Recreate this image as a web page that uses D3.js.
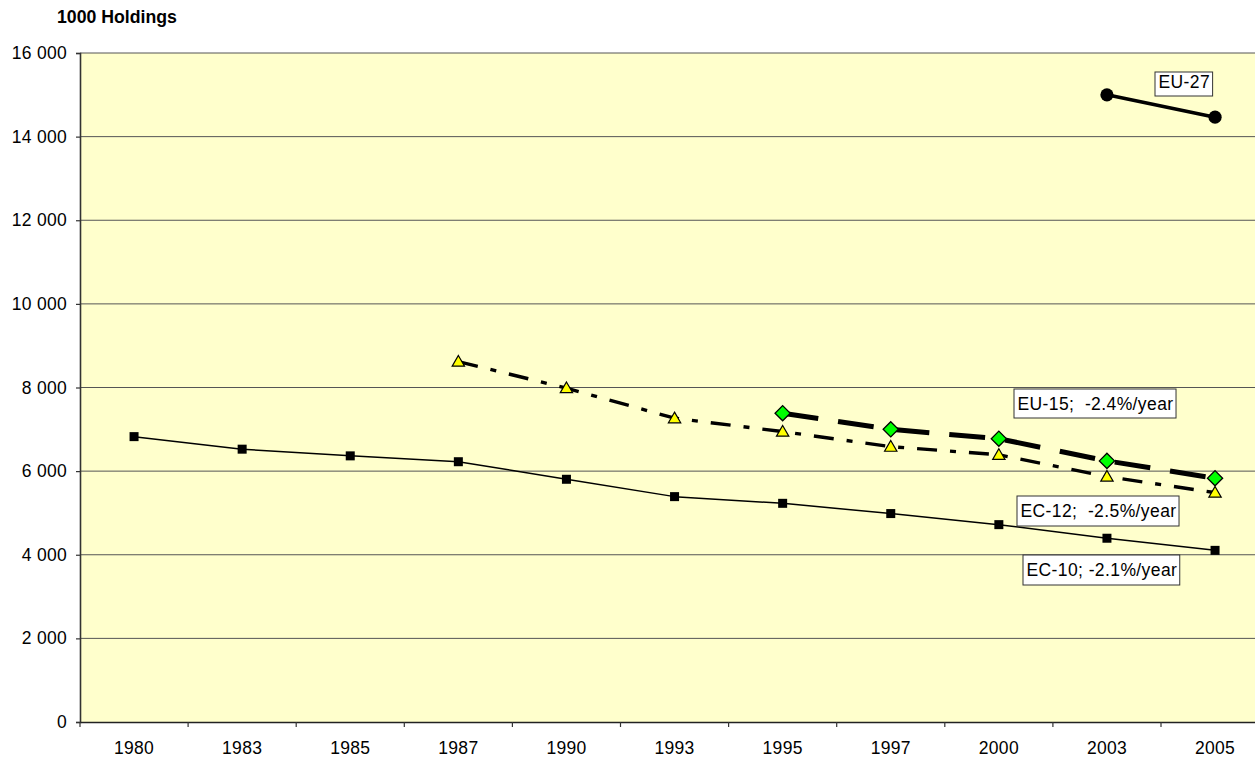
<!DOCTYPE html>
<html>
<head>
<meta charset="utf-8">
<script src="https://cdn.jsdelivr.net/npm/d3@7"></script>
<style>
  html, body { margin: 0; padding: 0; background: #ffffff; }
  svg { display: block; font-family: "Liberation Sans", Arial, sans-serif; }
</style>
</head>
<body>
<svg id="chart" width="1255" height="758"></svg>
<script>
// ---- data ----
const years = ["1980","1983","1985","1987","1990","1993","1995","1997","2000","2003","2005"];
const yTicks = [0, 2000, 4000, 6000, 8000, 10000, 12000, 14000, 16000];
const ec10 = [6825, 6525, 6365, 6225, 5805, 5390, 5230, 4985, 4720, 4395, 4105];
const ec12 = [null, null, null, 8620, 7985, 7265, 6945, 6585, 6390, 5870, 5485];
const eu15 = [null, null, null, null, null, null, 7385, 7000, 6775, 6245, 5830];
const eu27 = [null, null, null, null, null, null, null, null, null, 15000, 14465];
const seriesNames = ["EC-10", "EC-12", "EU-15", "EU-27"];
const labelTexts = ["EC-10; -2.1%/year", "EC-12;  -2.5%/year", "EU-15;  -2.4%/year", "EU-27"];
const yTitle = "1000 Holdings";

(function () {
// ---- layout ----
const svg = d3.select("#chart");
const mLeft = 80, mTop = 53, mBottom = 722, bandW = 108.1;
const mRight = mLeft + years.length * bandW;
const x = d3.scaleBand().domain(years).range([mLeft, mRight]).padding(0);
const y = d3.scaleLinear().domain([0, 16000]).range([mBottom, mTop]);
const fmt = d3.formatLocale({decimal: ".", thousands: " ", grouping: [3], currency: ["", ""]}).format(",");
const FS = 17.5;

// plot background
svg.append("rect").attr("x", mLeft).attr("y", mTop)
  .attr("width", mRight - mLeft).attr("height", mBottom - mTop)
  .attr("fill", "#ffffcc");

// gridlines
svg.append("g").selectAll("line").data(yTicks.filter(d => d > 0)).join("line")
  .attr("x1", mLeft).attr("x2", mRight)
  .attr("y1", d => y(d)).attr("y2", d => y(d))
  .attr("stroke", "#555").attr("stroke-width", 1);

// y axis
const yAxis = svg.append("g").attr("transform", `translate(${mLeft},0)`)
  .call(d3.axisLeft(y).tickValues(yTicks).tickFormat(fmt).tickSize(4).tickPadding(9));
yAxis.select(".domain").attr("stroke", "#333").attr("stroke-width", 1.6);
yAxis.selectAll(".tick line").attr("stroke", "#333").attr("stroke-width", 1.2);
yAxis.selectAll("text").attr("font-size", FS).attr("fill", "#000")
  .attr("letter-spacing", 0.3)
  .attr("font-family", "Liberation Sans, Arial, sans-serif");

// x axis (labels at band centres, ticks at band boundaries)
const xAxis = svg.append("g").attr("transform", `translate(0,${mBottom})`)
  .call(d3.axisBottom(x).tickSize(0).tickPadding(20));
xAxis.select(".domain").attr("stroke", "#222").attr("stroke-width", 1.6);
xAxis.selectAll("text").attr("font-size", FS).attr("fill", "#000")
  .attr("letter-spacing", 0.3)
  .attr("font-family", "Liberation Sans, Arial, sans-serif");
svg.append("g").selectAll("line").data(years).join("line")
  .attr("x1", d => x(d)).attr("x2", d => x(d))
  .attr("y1", mBottom).attr("y2", mBottom + 5)
  .attr("stroke", "#333").attr("stroke-width", 1.2);

// title
svg.append("text").attr("x", 57).attr("y", 23)
  .attr("font-size", 17.7).attr("font-weight", "bold").attr("fill", "#000")
  .text(yTitle);

// ---- series ----
const cx = i => x(years[i]) + x.bandwidth() / 2;
function pts(arr) { return arr.map((v, i) => v == null ? null : [cx(i), y(v)]).filter(p => p); }
const lineGen = d3.line();

const styles = [
  {data: ec10, width: 1.5, dash: null},
  {data: ec12, width: 3.4, dash: "20,13,6,13"},
  {data: eu15, width: 5, dash: "36,20"},
  {data: eu27, width: 3.5, dash: null}
];
styles.forEach(s => {
  svg.append("path").attr("d", lineGen(pts(s.data)))
    .attr("fill", "none").attr("stroke", "#000")
    .attr("stroke-width", s.width)
    .attr("stroke-dasharray", s.dash)
    .attr("stroke-linejoin", "round");
});

// markers
svg.append("g").selectAll("rect").data(pts(ec10)).join("rect")
  .attr("x", d => d[0] - 4.5).attr("y", d => d[1] - 4.5)
  .attr("width", 9).attr("height", 9).attr("fill", "#000");

const tri = d3.symbol().type(d3.symbolTriangle).size(66);
svg.append("g").selectAll("path").data(pts(ec12)).join("path")
  .attr("d", tri)
  .attr("transform", d => `translate(${d[0]},${d[1] + 1})`)
  .attr("fill", "#ffff00").attr("stroke", "#000").attr("stroke-width", 1.2);

svg.append("g").selectAll("path").data(pts(eu15)).join("path")
  .attr("d", "M0,-7.6L7.6,0L0,7.6L-7.6,0Z")
  .attr("transform", d => `translate(${d[0]},${d[1]})`)
  .attr("fill", "#00ff00").attr("stroke", "#000").attr("stroke-width", 1.3);

svg.append("g").selectAll("circle").data(pts(eu27)).join("circle")
  .attr("cx", d => d[0]).attr("cy", d => d[1]).attr("r", 6.6).attr("fill", "#000");

// ---- annotation boxes ----
const boxes = [
  {x: 1023, y: 555, h: 30, base: 21},
  {x: 1017, y: 496, h: 30, base: 21},
  {x: 1014, y: 389, h: 29, base: 20.5},
  {x: 1155, y: 72, h: 24, base: 16}
];
boxes.forEach((b, i) => {
  const g = svg.append("g");
  const r = g.append("rect").attr("x", b.x).attr("y", b.y).attr("height", b.h)
    .attr("fill", "#fff").attr("stroke", "#333").attr("stroke-width", 1);
  const t = g.append("text").attr("x", b.x + 3.5).attr("y", b.y + b.base)
    .attr("font-size", FS).attr("fill", "#000").attr("letter-spacing", 0.4)
    .style("white-space", "pre").text(labelTexts[i]);
  const w = t.node().getComputedTextLength();
  r.attr("width", w + 6);
});
})();
</script>
</body>
</html>
